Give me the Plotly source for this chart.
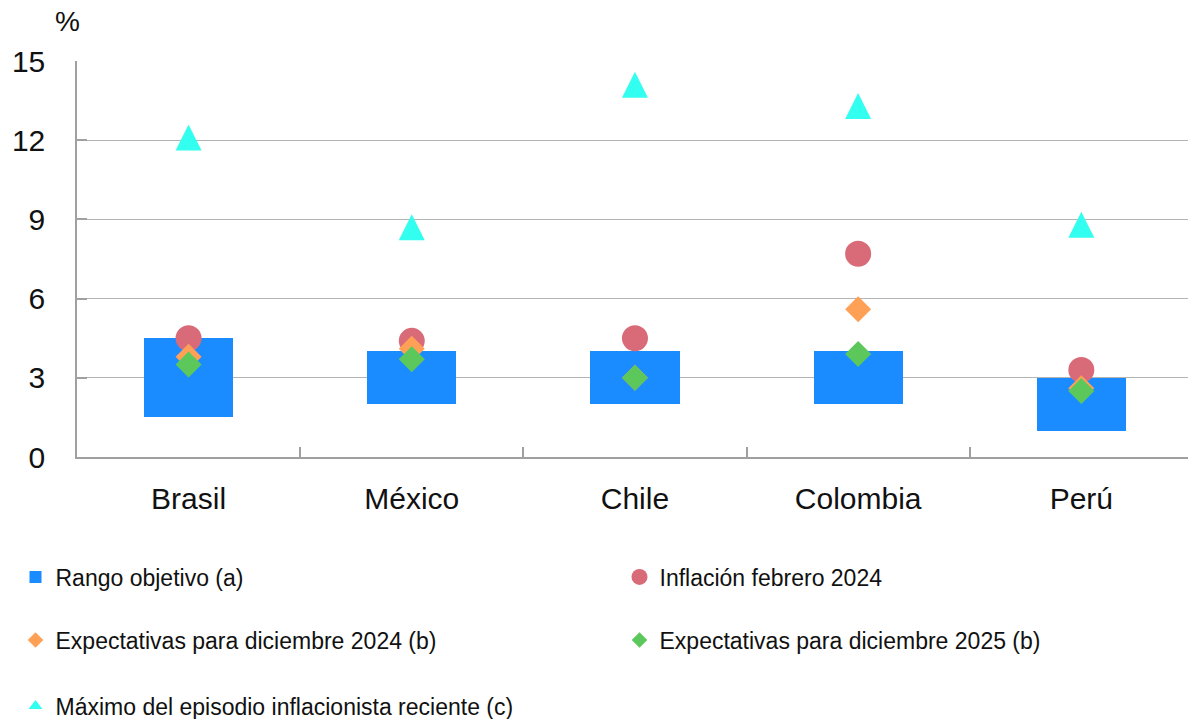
import plotly.graph_objects as go

# Países y series (en %)
paises = ["Brasil", "México", "Chile", "Colombia", "Perú"]
rango_min = [1.5, 2.0, 2.0, 2.0, 1.0]
rango_max = [4.5, 4.0, 4.0, 4.0, 3.0]
inflacion_feb_2024 = [4.5, 4.4, 4.5, 7.7, 3.3]
expectativas_dic_2024 = [3.8, 4.1, 3.0, 5.6, 2.6]
expectativas_dic_2025 = [3.5, 3.7, 3.0, 3.9, 2.5]
maximo_episodio = [12.1, 8.7, 14.1, 13.3, 8.8]
y_ticks = [0, 3, 6, 9, 12, 15]

FONT = "Liberation Sans, Arial, sans-serif"
AZUL = "#1a8cff"
ROJO = "#d96b78"
NARANJA = "#ffa057"
VERDE = "#5cc85c"
CIAN = "#33fff0"

# Geometría del área de trazado (px)
ANCHO, ALTO = 1188, 719
M_IZQ, M_SUP, M_INF = 77, 61, 262
AREA_W = ANCHO - M_IZQ
AREA_H = ALTO - M_SUP - M_INF


def px_a_x(px):
    return (px - M_IZQ) / AREA_W


def px_a_y(py):
    return (ALTO - M_INF - py) / AREA_H


fig = go.Figure()

fig.add_trace(go.Bar(
    x=paises,
    y=[hi - lo for lo, hi in zip(rango_min, rango_max)],
    base=rango_min,
    width=0.4,
    marker=dict(color=AZUL, line=dict(width=0)),
    name="Rango objetivo (a)",
    legend="legend",
))
fig.add_trace(go.Scatter(
    x=paises, y=inflacion_feb_2024, mode="markers",
    marker=dict(symbol="circle", size=26, color=ROJO, line=dict(width=0)),
    name="Inflación febrero 2024", legend="legend2",
))
fig.add_trace(go.Scatter(
    x=paises, y=expectativas_dic_2024, mode="markers",
    marker=dict(symbol="diamond", size=20, color=NARANJA, line=dict(width=0)),
    name="Expectativas para diciembre 2024 (b)", legend="legend3",
))
fig.add_trace(go.Scatter(
    x=paises, y=expectativas_dic_2025, mode="markers",
    marker=dict(symbol="diamond", size=20, color=VERDE, line=dict(width=0)),
    name="Expectativas para diciembre 2025 (b)", legend="legend4",
))
# Triángulo centrado en el valor: flecha invertida y girada 180°
fig.add_trace(go.Scatter(
    x=paises, y=maximo_episodio, mode="markers",
    marker=dict(symbol="arrow-down", angle=180, standoff=13, size=26,
                color=CIAN, line=dict(width=0)),
    name="Máximo del episodio inflacionista reciente (c)",
    legendgroup="maximo", showlegend=False,
))
# Entrada de leyenda para la serie de máximos
fig.add_trace(go.Scatter(
    x=[None], y=[None], mode="markers",
    marker=dict(symbol="triangle-up", size=14, color=CIAN, line=dict(width=0)),
    name="Máximo del episodio inflacionista reciente (c)",
    legendgroup="maximo", legend="legend5",
))


def leyenda(texto_px, fila_px, tam="constant"):
    return dict(
        orientation="v", x=px_a_x(texto_px - 40.5), xanchor="left",
        y=px_a_y(fila_px), yanchor="middle",
        font=dict(family=FONT, size=23, color="#111"),
        bgcolor="rgba(0,0,0,0)", itemwidth=30, itemsizing=tam,
    )


fig.update_layout(
    width=ANCHO, height=ALTO,
    margin=dict(l=M_IZQ, r=0, t=M_SUP, b=M_INF, autoexpand=False),
    paper_bgcolor="white", plot_bgcolor="white",
    font=dict(family=FONT, color="#111"),
    showlegend=True,
    legend=leyenda(56, 577),
    legend2=leyenda(660, 577, "trace"),
    legend3=leyenda(56, 640),
    legend4=leyenda(660, 640),
    legend5=leyenda(56, 706),
    bargap=0,
    xaxis=dict(
        type="category", range=[-0.5, 4.478], automargin=False,
        showline=True, linecolor="#a0a0a0", linewidth=1.5,
        ticks="inside", tickson="boundaries", ticklen=10, tickcolor="#a0a0a0",
        tickwidth=1.5, showgrid=False,
        tickfont=dict(family=FONT, size=30, color="#111"),
        ticklabelstandoff=14,
    ),
    yaxis=dict(
        range=[0, 15], tickvals=y_ticks, automargin=False,
        showline=True, linecolor="#a0a0a0", linewidth=1.5,
        ticks="inside", ticklen=10, tickcolor="#a0a0a0", tickwidth=1.5,
        showgrid=True, gridcolor="#b4b4b4", gridwidth=1, zeroline=False,
        tickfont=dict(family=FONT, size=30, color="#111"),
        ticklabelstandoff=24,
    ),
    annotations=[dict(
        text="%", xref="paper", yref="paper", x=-0.009, y=1.0,
        xanchor="center", yanchor="bottom", yshift=22, showarrow=False,
        font=dict(family=FONT, size=28, color="#111"),
    )],
)

fig.write_html("out.html")
